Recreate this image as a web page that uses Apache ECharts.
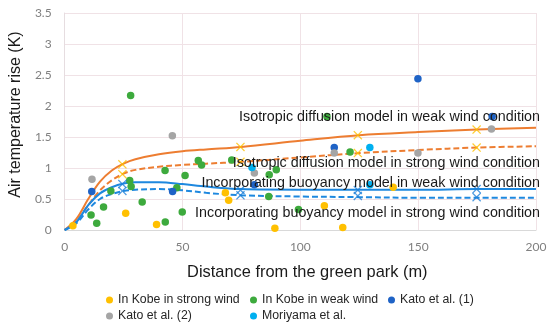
<!DOCTYPE html>
<html><head><meta charset="utf-8">
<script src="https://cdn.jsdelivr.net/npm/echarts@6/dist/echarts.min.js"></script>
<style>html,body{margin:0;padding:0;background:#fff}#c{width:550px;height:324px}</style>
</head><body><div id="c"></div>
<script>
// Observed data (Distance m, Temperature rise K)
const kobeStrong = [[3.5,0.07],[25.9,0.27],[39,0.09],[68.2,0.60],[69.6,0.48],[89.2,0.03],[110.2,0.39],[118,0.04],[139.4,0.69]];
const kobeWeak = [[11.2,0.24],[13.6,0.11],[16.5,0.37],[19.6,0.63],[28,2.17],[27.6,0.80],[28.2,0.70],[32.9,0.45],[42.7,0.13],[42.6,0.96],[47.6,0.68],[49.9,0.29],[51.1,0.88],[56.7,1.12],[58.1,1.05],[70.9,1.13],[86.8,0.89],[89.8,0.97],[86.6,0.54],[99.2,0.33],[111.3,1.83],[121.1,1.26]];
const kato1 = [[11.5,0.62],[45.8,0.62],[80.5,0.73],[114.4,1.33],[149.9,2.44],[181.4,1.83]];
const kato2 = [[11.6,0.82],[45.7,1.52],[80.5,0.92],[114.4,1.24],[149.9,1.24],[181.1,1.63]];
const moriyama = [[79.5,1.01],[129.5,1.33],[129.5,0.73]];

// Model curves
const curveX = [0,5,10,15,20,25,30,40,50,60,75,100,125,150,175,200];
const isoWeak   = [0,0.18,0.50,0.78,0.96,1.07,1.14,1.22,1.27,1.30,1.34,1.44,1.53,1.58,1.62,1.65];
const isoStrong = [0,0.14,0.40,0.64,0.80,0.91,0.97,1.02,1.05,1.07,1.10,1.17,1.24,1.29,1.33,1.35];
const buoyWeak  = [0,0.13,0.40,0.59,0.69,0.75,0.77,0.77,0.74,0.70,0.66,0.65,0.65,0.65,0.66,0.66];
const buoyStrong= [0,0.11,0.33,0.50,0.58,0.63,0.65,0.66,0.64,0.60,0.56,0.54,0.53,0.52,0.52,0.52];

// Model marker points
const markerX = [24.5,74.6,124.4,174.8];
const isoWeakMk = [1.06,1.34,1.53,1.62];
const isoStrongMk = [0.90,1.10,1.24,1.33];
const buoyWeakMk = [0.74,0.645,0.645,0.66];
const buoyStrongMk = [0.63,0.56,0.55,0.53];

const annotations = [
  ['Isotropic diffusion model in weak wind condition', 1.83],
  ['Isotropic diffusion model in strong wind condition', 1.10],
  ['Incorporating buoyancy model in weak wind condition', 0.78],
  ['Incorporating buoyancy model in strong wind condition', 0.29]
];

const xTicks = [0,50,100,150,200];
const yTicks = [0,0.5,1,1.5,2,2.5,3,3.5];

const zip = (xs, ys) => xs.map((x,i)=>[x,ys[i]]);
const crossPath = 'path://M0,1L1,0L5,4L9,0L10,1L6,5L10,9L9,10L5,6L1,10L0,9L4,5Z';

const chart = echarts.init(document.getElementById('c'), null, {renderer:'canvas'});
const ORANGE = '#ED7D31', BLUE = '#1E88DF';
function lineS(data, color, dashed){
  return {type:'line', data: zip(curveX, data), smooth:0.35, showSymbol:false, symbol:'none', z:2,
    lineStyle:{color, width:2, type: dashed?[6,3]:'solid'}, silent:true};
}
function mkS(data, color){
  return {type:'scatter', data: zip(markerX, data), symbol: crossPath, symbolSize: 9, z:4,
    itemStyle:{color}, silent:true};
}
function dotS(name, data, color){
  return {name, type:'scatter', data, symbol:'circle', symbolSize:7.5, z:3, itemStyle:{color, opacity:1}};
}
const legendText = {fontFamily:'Liberation Sans, Arial, sans-serif', fontSize:12.3, color:'#262626'};
function legendCol(names, left){
  return {data:names, orient:'vertical', left, top:294, padding:0, itemGap:4, itemWidth:7, itemHeight:7,
    icon:'circle', textStyle:legendText, selectedMode:false};
}
chart.setOption({
  animation:false,
  backgroundColor:'#fff',
  grid:{left:60, right:14, top:13, bottom:94},
  xAxis:{type:'value', min:xTicks[0], max:xTicks[xTicks.length-1], interval:50,
    name:'Distance from the green park (m)', nameLocation:'middle', nameGap:34,
    nameTextStyle:{fontFamily:'Liberation Sans, Arial, sans-serif', fontSize:16.4, color:'#1a1a1a', padding:[0,0,0,14]},
    axisLine:{show:true, lineStyle:{color:'#d9d9d9'}}, axisTick:{show:false},
    axisLabel:{fontFamily:'Lato, sans-serif', fontSize:12, color:'#808080', margin:11},
    splitLine:{show:true, lineStyle:{color:'#f0e2e6'}}},
  yAxis:{type:'value', min:yTicks[0], max:yTicks[yTicks.length-1], interval:0.5,
    name:'Air temperature rise (K)', nameLocation:'middle', nameGap:35,
    nameTextStyle:{fontFamily:'Liberation Sans, Arial, sans-serif', fontSize:16, color:'#1a1a1a', padding:[0,0,0,14]},
    axisLine:{show:true, lineStyle:{color:'#e6dde0'}}, axisTick:{show:false},
    axisLabel:{fontFamily:'Lato, sans-serif', fontSize:12, color:'#808080', margin:13},
    splitLine:{show:true, lineStyle:{color:'#f0e2e6'}}},
  legend:[
    legendCol(['In Kobe in strong wind','Kato et al. (2)'], 106),
    legendCol(['In Kobe in weak wind','Moriyama et al.'], 250),
    legendCol(['Kato et al. (1)'], 388)
  ],
  series:[
    lineS(isoWeak, ORANGE, false),
    lineS(isoStrong, ORANGE, true),
    lineS(buoyWeak, BLUE, false),
    lineS(buoyStrong, BLUE, true),
    dotS('In Kobe in strong wind', kobeStrong, '#FFC000'),
    dotS('In Kobe in weak wind', kobeWeak, '#3DAA3D'),
    dotS('Kato et al. (1)', kato1, '#1F63C6'),
    dotS('Kato et al. (2)', kato2, '#A5A5A5'),
    dotS('Moriyama et al.', moriyama, '#00B0F0'),
    mkS(isoWeakMk, '#FFC000'),
    mkS(isoStrongMk, '#FFC000'),
    mkS(buoyWeakMk, '#1E7FD8'),
    mkS(buoyStrongMk, '#1E7FD8')
  ]
});
// annotation texts, right-aligned, vertical position from data value
const g = annotations.map(([t, yv]) => {
  const p = chart.convertToPixel({gridIndex:0}, [200, yv]);
  return {type:'text', right: 550 - 540, top: p[1] - 6, z:10,
    style:{text:t, font:'14.3px "Liberation Sans", Arial, sans-serif', fill:'#1a1a1a'}};
});
chart.setOption({graphic:g});
</script></body></html>
